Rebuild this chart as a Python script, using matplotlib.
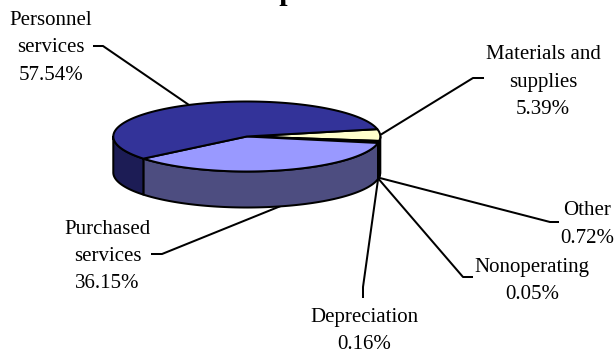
import numpy as np
import matplotlib
matplotlib.use("Agg")
import matplotlib.pyplot as plt

# Expense shares in clockwise drawing order
categories = ["Materials and\nsupplies", "Other", "Nonoperating", "Depreciation",
              "Purchased\nservices", "Personnel\nservices"]
shares = [5.39, 0.72, 0.05, 0.16, 36.15, 57.54]
share_labels = ["5.39%", "0.72%", "0.05%", "0.16%", "36.15%", "57.54%"]
title_text = "Total Expenses"

top_colors = ["#FFFFCC", "#FF8080", "#660066", "#CCFFFF", "#9999FF", "#333399"]
side_colors = ["#80806A", "#804040", "#330033", "#6A8080", "#4D4D80", "#1C1C55"]

# Pie geometry in pixels
CX, CY, RX, RY, DEPTH = 246.8, 136.5, 133.5, 35.0, 36.0
START_ANGLE = 12.1
EDGE = 1.45

# Label centre, leader elbow and leader end for each category
label_pos = [(543, 82), (587.5, 224.5), (532, 281), (364, 331), (107.5, 256.5), (51, 48)]
elbows = [(473, 78), (550, 222), (463, 277), (363, 287), (162, 254), (103, 46)]
ends = [(483, 78), (558, 222), (472, 277), (363, 297), (152, 254), (94, 46)]

fig = plt.figure(figsize=(6.15, 3.52), dpi=100, facecolor="white")
ax = fig.add_axes([0, 0, 1, 1])
ax.set_xlim(0, 615)
ax.set_ylim(352, 0)
ax.axis("off")


def rim(deg):
    t = np.radians(deg)
    return CX + RX * np.cos(t), CY - RY * np.sin(t)


# Slice boundaries, going clockwise from the start angle
sweeps = np.array(shares) / sum(shares) * 360
bounds = START_ANGLE - np.concatenate([[0], np.cumsum(sweeps)])

# Side walls: only the part of each slice on the front half of the rim shows
for i in range(len(shares)):
    hi, lo = bounds[i], bounds[i + 1]
    for a, b in [(hi, lo), (hi + 360, lo + 360), (hi - 360, lo - 360)]:
        a2, b2 = min(a, 0), max(b, -180)
        if a2 > b2:
            ts = np.linspace(a2, b2, 80)
            x, y = rim(ts)
            ax.fill(np.r_[x, x[::-1]], np.r_[y, y[::-1] + DEPTH],
                    facecolor=side_colors[i], edgecolor="black", lw=EDGE, joinstyle="round", zorder=2)

# Top faces
for i in range(len(shares)):
    ts = np.linspace(bounds[i], bounds[i + 1], 200)
    x, y = rim(ts)
    ax.fill(np.r_[CX, x], np.r_[CY, y], facecolor=top_colors[i], edgecolor="black",
            lw=EDGE, joinstyle="round", zorder=3)

# Leader lines start on the rim at each slice's mid angle
for i, cat in enumerate(categories):
    mid = (bounds[i] + bounds[i + 1]) / 2
    x0, y0 = rim(mid)
    if np.sin(np.radians(mid)) < 0:
        y0 += DEPTH
    ax.plot([x0, elbows[i][0], ends[i][0]], [y0, elbows[i][1], ends[i][1]],
            color="black", lw=EDGE, zorder=1, solid_joinstyle="round")
    ax.text(label_pos[i][0], label_pos[i][1], f"{cat}\n{share_labels[i]}", ha="center", va="center",
            ma="center", family="Liberation Serif", fontsize=15, linespacing=1.6, color="black")

# Title runs off the top edge of the canvas
ax.text(267, -0.2, title_text, ha="center", va="baseline", family="Liberation Serif",
        fontsize=21.6, fontweight="bold", color="black", clip_on=False)

fig.savefig("out.png", dpi=100)
